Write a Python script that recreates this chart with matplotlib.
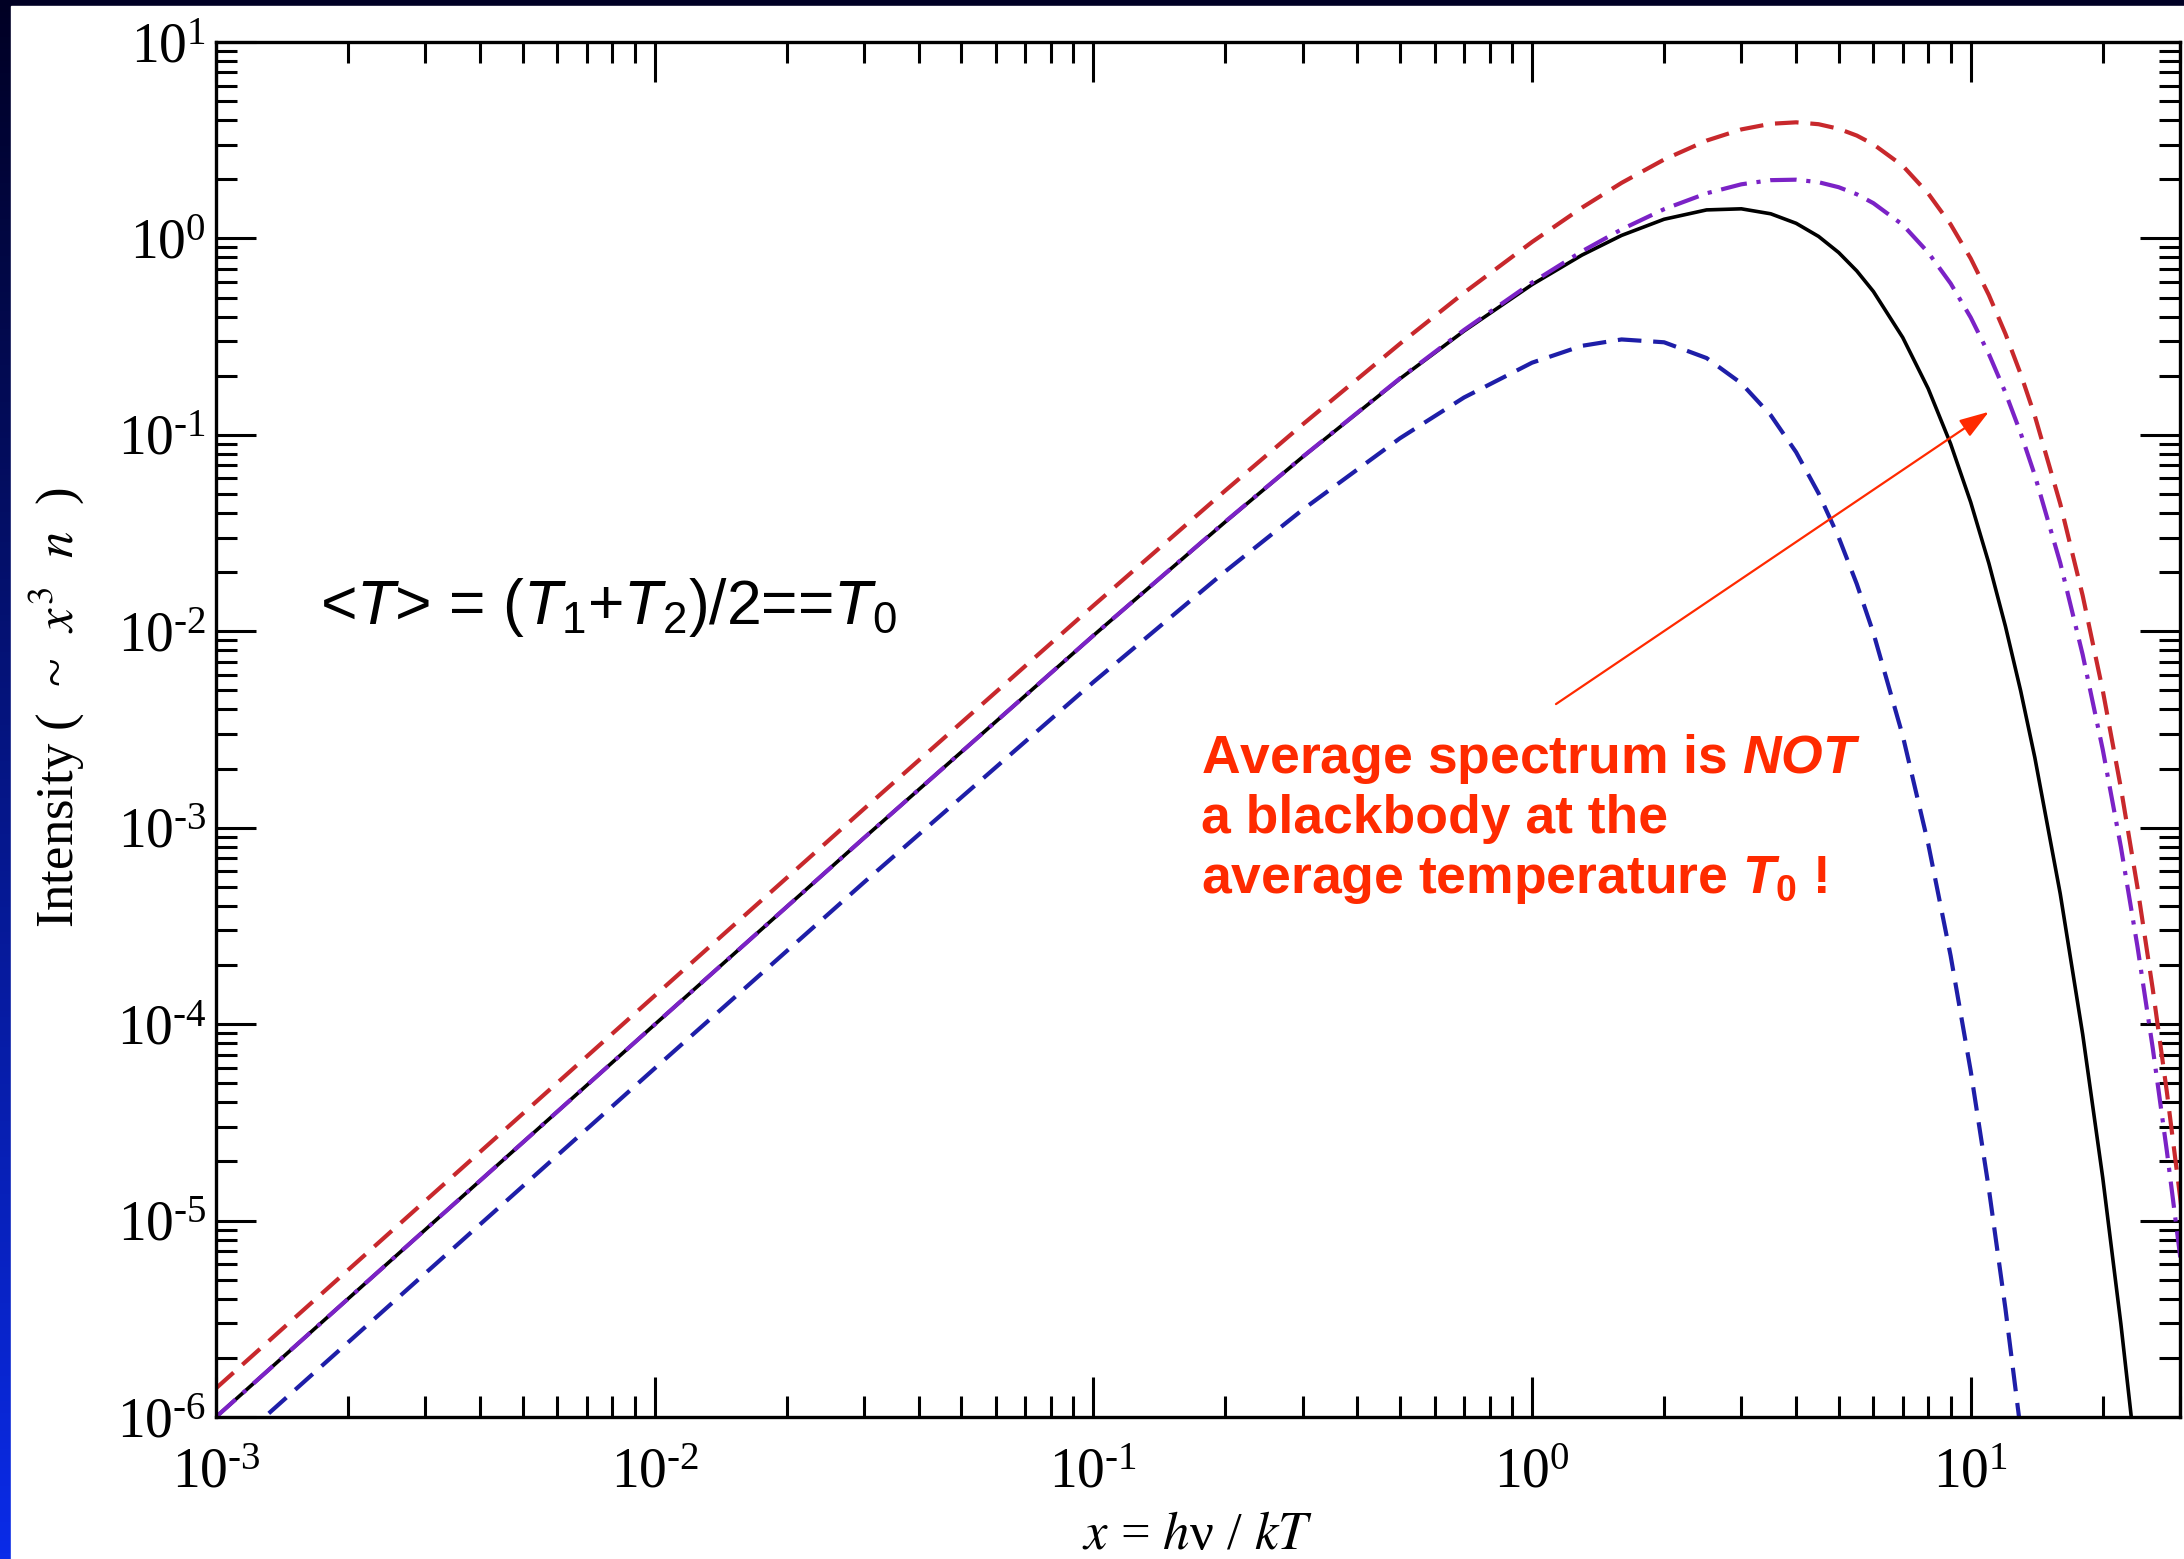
import matplotlib

matplotlib.use("Agg")
import matplotlib.pyplot as plt
import numpy as np
from matplotlib.colors import LinearSegmentedColormap
from matplotlib.patches import Rectangle
from matplotlib.ticker import FuncFormatter, LogLocator, NullFormatter

# x = h nu / k T0
x_grid = [
    0.001, 0.003, 0.01, 0.03, 0.1, 0.2, 0.3, 0.5, 0.7, 1.0,
    1.3, 1.6, 2.0, 2.5, 3.0, 3.5, 4.0, 4.5, 5.0, 5.5,
    6.0, 7.0, 8.0, 9.0, 10.0, 11.0, 12.0, 13.0, 14.0, 16.0,
    18.0, 20.0, 22.0, 24.0, 26.0, 28.0, 30.0, 32.0,
]

# blackbody at the average temperature T0
intensity_t0 = [
    1.0e-6, 8.99e-6, 9.95e-5, 8.87e-4, 9.51e-3, 0.0361, 0.0772, 0.193, 0.338, 0.582,
    0.823, 1.036, 1.252, 1.397, 1.415, 1.335, 1.194, 1.024, 0.848, 0.683,
    0.537, 0.313, 0.172, 0.0900, 0.0454, 0.0222, 0.0106, 4.97e-3, 2.28e-3, 4.61e-4,
    8.88e-5, 1.65e-5, 2.97e-6, 5.22e-7, 8.98e-8, 1.52e-8, 2.53e-9, 4.15e-10,
]

# hotter component T1
intensity_t1 = [
    1.40e-6, 1.26e-5, 1.395e-4, 1.247e-3, 0.0135, 0.0521, 0.113, 0.291, 0.529, 0.959,
    1.435, 1.918, 2.521, 3.148, 3.589, 3.834, 3.900, 3.815, 3.616, 3.339,
    3.014, 2.343, 1.694, 1.179, 0.791, 0.515, 0.327, 0.204, 0.125, 0.0446,
    0.0152, 5.00e-3, 1.59e-3, 4.96e-4, 1.51e-4, 4.52e-5, 1.33e-5, 3.88e-6,
]

# colder component T2
intensity_t2 = [
    6.0e-7, 5.39e-6, 5.95e-5, 5.27e-4, 5.51e-3, 0.0202, 0.0416, 0.0961, 0.155, 0.233,
    0.284, 0.306, 0.296, 0.246, 0.183, 0.126, 0.0816, 0.0504, 0.0301, 0.0174,
    9.81e-3, 2.94e-3, 8.29e-4, 2.23e-4, 5.78e-5, 1.45e-5, 3.56e-6, 8.55e-7, 2.02e-7, 1.07e-8,
    5.5e-10, 2.7e-11, 1.3e-12, 5.9e-14, 2.7e-15, 1.2e-16, 5.2e-18, 2.3e-19,
]

# average of the two spectra
intensity_mean = [
    1.0e-6, 8.99e-6, 9.95e-5, 8.87e-4, 9.51e-3, 0.0362, 0.0773, 0.194, 0.342, 0.596,
    0.860, 1.112, 1.409, 1.697, 1.886, 1.980, 1.991, 1.933, 1.823, 1.678,
    1.512, 1.173, 0.848, 0.590, 0.396, 0.258, 0.164, 0.102, 0.0623, 0.0223,
    7.60e-3, 2.50e-3, 7.97e-4, 2.48e-4, 7.56e-5, 2.26e-5, 6.67e-6, 1.94e-6,
]

W, H = 2184, 1559
RED_TEXT = "#ff2a00"

plt.rcParams["font.family"] = "Liberation Serif"
plt.rcParams["lines.scale_dashes"] = False
plt.rcParams["mathtext.fontset"] = "custom"
plt.rcParams["mathtext.rm"] = "Liberation Sans"
plt.rcParams["mathtext.it"] = "Liberation Sans:italic"
plt.rcParams["mathtext.bf"] = "Liberation Sans:bold"
plt.rcParams["mathtext.bfit"] = "Liberation Sans:italic:bold"


def decade_label(value, _pos):
    # plain hyphen in the exponent, not the typographic minus
    exponent = int(round(np.log10(value)))
    sign = "\u2010" if exponent < 0 else ""
    return r"$\mathdefault{10^{%s%d}}$" % (sign, abs(exponent))


fig = plt.figure(figsize=(W / 100, H / 100), dpi=100)

# slide background: dark-to-blue gradient with a white panel on top
bg = fig.add_axes([0, 0, 1, 1], zorder=-5)
bg.axis("off")
slide_cmap = LinearSegmentedColormap.from_list("slide", ["#000024", "#0a2be8"])
bg.imshow(np.linspace(0, 1, 256).reshape(-1, 1), aspect="auto", cmap=slide_cmap,
          extent=[0, 1, 0, 1], origin="upper")
bg.add_patch(Rectangle((11 / W, 0), 1, (H - 6) / H, color="white",
                       transform=bg.transAxes))
bg.set_xlim(0, 1)
bg.set_ylim(0, 1)

ax = fig.add_axes([216 / W, (H - 1417) / H, (2180 - 216) / W, (1417 - 42) / H])

ax.plot(x_grid, intensity_t1, color="#c8282c", lw=3.0, dashes=(17, 8.5))
ax.plot(x_grid, intensity_t2, color="#1e1ea8", lw=3.0, dashes=(17, 8.5))
ax.plot(x_grid, intensity_t0, color="black", lw=2.6)
ax.plot(x_grid, intensity_mean, color="#7b22c6", lw=3.0, dashes=(19, 7, 3, 7))

ax.set_xscale("log")
ax.set_yscale("log")
ax.set_xlim(1e-3, 30)
ax.set_ylim(1e-6, 10)

for axis in (ax.xaxis, ax.yaxis):
    axis.set_major_locator(LogLocator(base=10, numticks=20))
    axis.set_major_formatter(FuncFormatter(decade_label))
    axis.set_minor_locator(LogLocator(base=10, subs=np.arange(2, 10), numticks=20))
    axis.set_minor_formatter(NullFormatter())

ax.tick_params(which="both", direction="in", top=True, right=True, width=2.2,
               labelsize=40)
ax.tick_params(which="major", length=29)
ax.tick_params(which="minor", length=15)
ax.tick_params(axis="x", which="major", pad=22)
ax.tick_params(axis="y", which="major", pad=7)
for spine in ax.spines.values():
    spine.set_linewidth(2.4)

ax.set_xlabel(r"$x$ = $h$ν / $kT$", fontsize=38, math_fontfamily="stix")
ax.xaxis.set_label_coords(0.5, -0.069)
ax.set_ylabel(r"Intensity (  ~  $x^{3}$  $n$  )", fontsize=38, math_fontfamily="stix")
ax.yaxis.set_label_coords(-0.066, 0.516)

ax.text(1.726e-3, 0.0109,
        r"<$\mathit{T}$> = ($\mathit{T}_{1}$+$\mathit{T}_{2}$)/2==$\mathit{T}_{0}$",
        family="Liberation Sans", fontsize=45, va="baseline", ha="left")

note_lines = [
    r"Average spectrum is $\mathbfit{NOT}$",
    "a blackbody at the",
    r"average temperature $\mathbfit{T}_{\mathbf{0}}$ !",
]
for i, line in enumerate(note_lines):
    ax.annotate(line, xy=(0.176, 1.90e-3), xytext=(0, -43.3 * i),
                textcoords="offset points", family="Liberation Sans",
                fontweight="bold", fontsize=38.5, color=RED_TEXT,
                va="baseline", ha="left")

ax.annotate("", xy=(11.0, 0.131), xytext=(1.134, 4.26e-3),
            arrowprops=dict(arrowstyle="-|>,head_length=0.9,head_width=0.3",
                            color=RED_TEXT, lw=1.6, mutation_scale=20,
                            shrinkA=0, shrinkB=0))

fig.savefig("out.png", dpi=100)
